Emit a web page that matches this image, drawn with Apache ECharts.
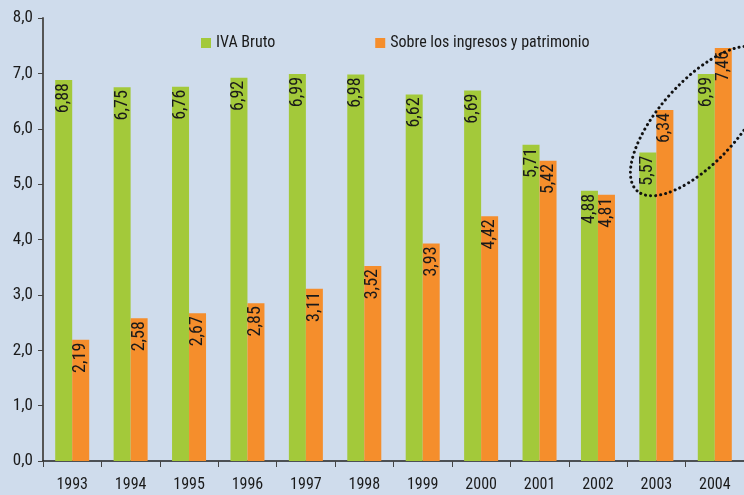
<!DOCTYPE html>
<html><head><meta charset="utf-8">
<script src="https://cdn.jsdelivr.net/npm/echarts@6/dist/echarts.min.js"></script>
<style>html,body{margin:0;padding:0;background:#cfdcec}#c{width:744px;height:495px}</style>
</head><body><div id="c"></div>
<script>
const years = ['1993','1994','1995','1996','1997','1998','1999','2000','2001','2002','2003','2004'];
const ivaBruto = [6.88,6.75,6.76,6.92,6.99,6.98,6.62,6.69,5.71,4.88,5.57,6.99];
const ingresos = [2.19,2.58,2.67,2.85,3.11,3.52,3.93,4.42,5.42,4.81,6.34,7.46];
const seriesNames = ['IVA Bruto','Sobre los ingresos y patrimonio'];
const FONT = "'Liberation Sans Narrow','Roboto Condensed','Liberation Sans',sans-serif";
const fmt = v => v.toFixed(1).replace('.', ',');
const lbl = {
  show: true, position: 'insideTop', rotate: 90, align: 'right', verticalAlign: 'middle',
  distance: 3, color: '#1a1a1a', fontSize: 18, fontFamily: FONT,
  formatter: p => p.value.toFixed(2).replace('.', ',')
};
const chart = echarts.init(document.getElementById('c'));
chart.setOption({
  backgroundColor: '#cfdcec',
  animation: false,
  grid: {left: 43, right: -2, top: 18, bottom: 34},
  legend: {
    top: 30, left: 196, itemWidth: 10, itemHeight: 10, itemGap: 100, icon: 'rect',
    textStyle: {fontFamily: FONT, fontSize: 16, color: '#1a1a1a'}
  },
  xAxis: {
    type: 'category', data: years,
    axisLine: {lineStyle: {color: '#222', width: 1.5}},
    axisTick: {show: true, length: 6, lineStyle: {color: '#444'}},
    axisLabel: {fontFamily: FONT, fontSize: 16, color: '#1a1a1a', margin: 16}
  },
  yAxis: {
    type: 'value', min: 0, max: 8, interval: 1,
    axisLine: {show: true, lineStyle: {color: '#555', width: 2}},
    axisTick: {show: true, length: 5, lineStyle: {color: '#444'}},
    splitLine: {show: false},
    axisLabel: {fontFamily: FONT, fontSize: 17, color: '#1a1a1a', margin: 10, formatter: fmt}
  },
  series: [
    {name: seriesNames[0], type: 'bar', data: ivaBruto, barWidth: 17, barGap: '0%',
     itemStyle: {color: '#a3c93a'}, label: lbl},
    {name: seriesNames[1], type: 'bar', data: ingresos, barWidth: 17, barGap: '0%',
     itemStyle: {color: '#f58e2c'}, label: lbl}
  ],
  graphic: [{
    type: 'ellipse', z: 100,
    x: 700, y: 121, rotation: 48 * Math.PI / 180,
    shape: {cx: 0, cy: 0, rx: 94, ry: 40},
    style: {fill: 'none', stroke: '#111', lineWidth: 3, lineDash: [0.1, 5], lineCap: 'round'}
  }]
});
</script></body></html>
